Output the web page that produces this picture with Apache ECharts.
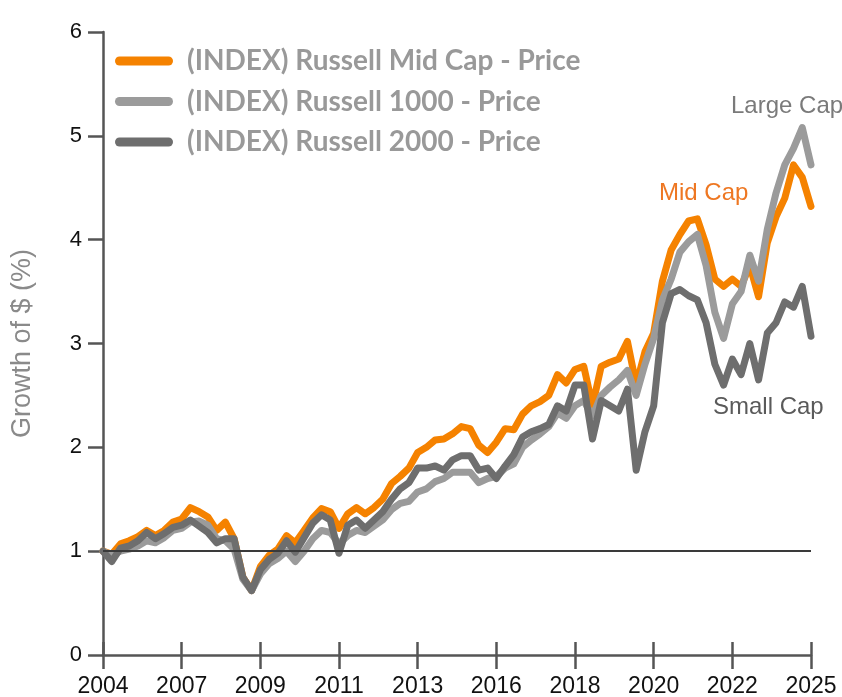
<!DOCTYPE html>
<html>
<head>
<meta charset="utf-8">
<script src="https://cdn.jsdelivr.net/npm/echarts@6/dist/echarts.min.js"></script>
<style>
  html, body { margin: 0; padding: 0; background: #fff; }
  #chart { width: 842px; height: 697px; }
</style>
</head>
<body>
<div id="chart"></div>
<script>
// months since Dec 2004, quarterly
const months = [0, 3, 6, 9, 12, 15, 18, 21, 24, 27, 30, 33, 36, 39, 42, 45, 48, 51, 54, 57,
  60, 63, 66, 69, 72, 75, 78, 81, 84, 87, 90, 93, 96, 99, 102, 105, 108, 111, 114, 117,
  120, 123, 126, 129, 132, 135, 138, 141, 144, 147, 150, 153, 156, 159, 162, 165, 168, 171, 174, 177,
  180, 183, 186, 189, 192, 195, 198, 201, 204, 207, 210, 213, 216, 219, 222, 225, 228, 231, 234, 237,
  240, 243];
const tickLabels = ['2004', '2007', '2009', '2011', '2013', '2016', '2018', '2020', '2022', '2025'];

const midCap = [1.00, 0.97, 1.07, 1.10, 1.14, 1.20, 1.15, 1.20, 1.28, 1.31,
  1.42, 1.38, 1.33, 1.20, 1.28, 1.12, 0.75, 0.62, 0.85, 0.96,
  1.02, 1.15, 1.08, 1.20, 1.32, 1.41, 1.38, 1.22, 1.36, 1.42,
  1.36, 1.42, 1.50, 1.65, 1.72, 1.80, 1.95, 2.00, 2.07, 2.08,
  2.13, 2.20, 2.18, 2.02, 1.95, 2.05, 2.18, 2.17, 2.32, 2.40,
  2.44, 2.50, 2.70, 2.62, 2.75, 2.78, 2.40, 2.78, 2.82, 2.85,
  3.02, 2.60, 2.92, 3.10, 3.60, 3.90, 4.05, 4.18, 4.20, 3.95,
  3.62, 3.55, 3.62, 3.55, 3.75, 3.45, 3.97, 4.22, 4.40, 4.72,
  4.60, 4.32];
const largeCap = [1.00, 0.96, 1.00, 1.02, 1.05, 1.10, 1.08, 1.13, 1.20, 1.22,
  1.28, 1.29, 1.25, 1.12, 1.10, 1.02, 0.73, 0.62, 0.78, 0.88,
  0.93, 1.00, 0.90, 1.00, 1.12, 1.20, 1.18, 1.07, 1.15, 1.20,
  1.18, 1.24, 1.30, 1.40, 1.46, 1.48, 1.57, 1.60, 1.67, 1.70,
  1.76, 1.76, 1.76, 1.66, 1.70, 1.72, 1.80, 1.84, 2.00, 2.07,
  2.13, 2.20, 2.33, 2.28, 2.40, 2.45, 2.30, 2.50, 2.58, 2.65,
  2.74, 2.50, 2.80, 3.05, 3.42, 3.62, 3.88, 3.98, 4.05, 3.75,
  3.30, 3.05, 3.38, 3.50, 3.85, 3.60, 4.10, 4.45, 4.72, 4.88,
  5.08, 4.72];
const smallCap = [1.00, 0.90, 1.03, 1.05, 1.10, 1.18, 1.12, 1.17, 1.23, 1.25,
  1.30, 1.24, 1.18, 1.08, 1.12, 1.12, 0.75, 0.62, 0.82, 0.92,
  0.98, 1.10, 0.99, 1.13, 1.27, 1.35, 1.30, 0.98, 1.25, 1.30,
  1.22, 1.30, 1.38, 1.50, 1.60, 1.66, 1.80, 1.80, 1.82, 1.78,
  1.88, 1.92, 1.92, 1.78, 1.80, 1.70, 1.82, 1.93, 2.10, 2.15,
  2.18, 2.22, 2.40, 2.35, 2.60, 2.60, 2.08, 2.45, 2.40, 2.35,
  2.56, 1.78, 2.15, 2.40, 3.20, 3.48, 3.52, 3.46, 3.42, 3.20,
  2.80, 2.60, 2.85, 2.70, 3.00, 2.65, 3.10, 3.20, 3.40, 3.35,
  3.55, 3.07];

const seriesNames = ['(INDEX) Russell Mid Cap - Price', '(INDEX) Russell 1000 - Price', '(INDEX) Russell 2000 - Price'];
const colors = ['#F58200', '#9B9B9B', '#6E6E6E'];

function pairs(vals) {
    return vals.map((v, i) => [months[i], v]);
}

const chart = echarts.init(document.getElementById('chart'), null, {renderer: 'canvas'});
const axisFont = "'Liberation Sans', Arial, sans-serif";
const axisColor = '#555555';
const pill = 'path://M4.5,0 H53.5 A4.5,4.5 0 0 1 53.5,9 H4.5 A4.5,4.5 0 0 1 4.5,0 Z';

const lineSeries = [midCap, largeCap, smallCap].map((vals, i) => ({
    name: seriesNames[i],
    type: 'line',
    data: pairs(vals),
    showSymbol: false,
    symbol: 'none',
    color: colors[i],
    lineStyle: {width: 7, color: colors[i], join: 'round', cap: 'round'},
    animation: false
}));

// baseline at 1
lineSeries[0].markLine = {
    silent: true,
    symbol: 'none',
    label: {show: false},
    lineStyle: {color: '#3a3a3a', width: 2, type: 'solid'},
    data: [{yAxis: 1}]
};

let option = {
    animation: false,
    grid: {left: 103, right: 31, top: 32, bottom: 42, outerBoundsMode: 'none'},
    legend: {
        orient: 'vertical',
        left: 110,
        top: 42,
        itemWidth: 58,
        itemHeight: 9,
        itemGap: 12.5,
        icon: pill,
        data: seriesNames,
        textStyle: {
            fontFamily: "Lato, 'Open Sans', sans-serif",
            fontWeight: 'bold',
            fontSize: 28,
            color: '#999999',
            padding: [0, 0, 0, 9]
        }
    },
    xAxis: [
        {
            type: 'value',
            min: 0,
            max: 243,
            interval: 27,
            axisLine: {show: true, onZero: false, lineStyle: {color: axisColor, width: 2.5}},
            axisTick: {show: true, length: 14, lineStyle: {color: axisColor, width: 2.5}},
            splitLine: {show: false},
            axisLabel: {
                fontFamily: axisFont,
                fontSize: 23,
                color: '#111',
                margin: 20,
                formatter: (v) => tickLabels[Math.round(v / 27)]
            }
        },
        {
            type: 'value',
            min: 0,
            max: 243,
            interval: 27,
            position: 'bottom',
            axisLine: {show: false},
            axisTick: {show: true, inside: true, length: 13, lineStyle: {color: axisColor, width: 2.5}},
            axisLabel: {show: false},
            splitLine: {show: false}
        }
    ],
    yAxis: {
        type: 'value',
        min: 0,
        max: 6,
        interval: 1,
        name: 'Growth of $ (%)',
        nameLocation: 'middle',
        nameRotate: 90,
        nameGap: 67,
        nameTextStyle: {fontFamily: axisFont, fontSize: 27, color: '#8a8a8a', padding: [0, 0, 0, 0]},
        axisLine: {show: true, lineStyle: {color: axisColor, width: 2.5}},
        axisTick: {show: true, length: 15, lineStyle: {color: axisColor, width: 2.5}},
        splitLine: {show: false},
        axisLabel: {fontFamily: axisFont, fontSize: 22, color: '#111', margin: 21}
    },
    graphic: [
        {type: 'text', left: 731, top: 94, style: {text: 'Large Cap', font: "24px 'Liberation Sans', Arial", fill: '#7a7a7a'}},
        {type: 'text', left: 659, top: 181, style: {text: 'Mid Cap', font: "24px 'Liberation Sans', Arial", fill: '#EE7722'}},
        {type: 'text', left: 713, top: 395, style: {text: 'Small Cap', font: "24px 'Liberation Sans', Arial", fill: '#5a5a5a'}}
    ],
    series: lineSeries
};

chart.setOption(option);
</script>
</body>
</html>
